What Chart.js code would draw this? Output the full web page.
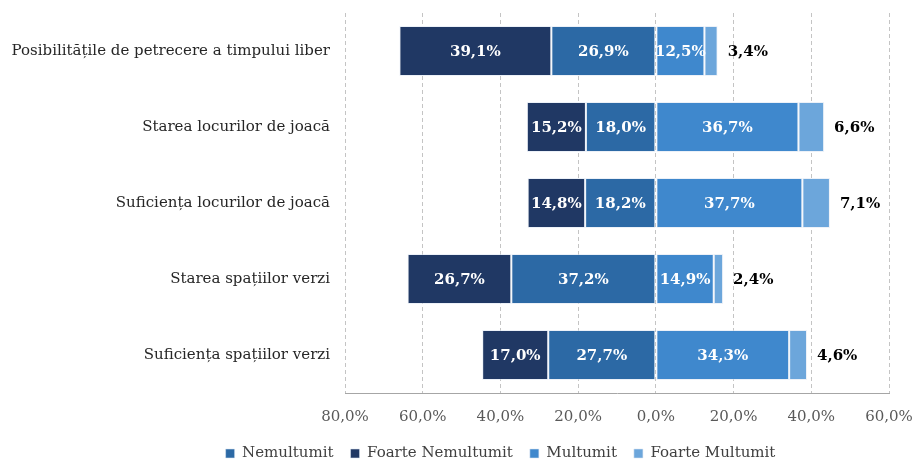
<!DOCTYPE html>
<html>
<head>
<meta charset="utf-8">
<script src="https://cdn.jsdelivr.net/npm/chart.js@4/dist/chart.umd.min.js"></script>
<style>
  html, body { margin: 0; padding: 0; background: #ffffff; }
  #wrap { width: 914px; height: 461px; position: relative; }
</style>
</head>
<body>
<div id="wrap"><canvas id="c" width="914" height="461"></canvas></div>
<script>
// Satisfaction survey: share of answers per aspect (percent)
const categories = [
  'Posibilitățile de petrecere a timpului liber',
  'Starea locurilor de joacă',
  'Suficiența locurilor de joacă',
  'Starea spațiilor verzi',
  'Suficiența spațiilor verzi'
];
const nemultumit        = [26.9, 18.0, 18.2, 37.2, 27.7];
const foarteNemultumit  = [39.1, 15.2, 14.8, 26.7, 17.0];
const multumit          = [12.5, 36.7, 37.7, 14.9, 34.3];
const foarteMultumit    = [3.4, 6.6, 7.1, 2.4, 4.6];
const xTicks = [-80, -60, -40, -20, 0, 20, 40, 60];

const FONT = "'DejaVu Serif', 'Liberation Serif', serif";
const fmt = v => Math.abs(v).toFixed(1).replace('.', ',') + '%';

// Value labels: white inside the segments, black beside the outer light segment
const valueLabels = {
  id: 'valueLabels',
  afterDatasetsDraw(chart) {
    const ctx = chart.ctx;
    ctx.save();
    ctx.font = "bold 15px " + FONT;
    ctx.textBaseline = 'middle';
    chart.data.datasets.forEach((ds, i) => {
      const meta = chart.getDatasetMeta(i);
      if (meta.hidden) return;
      meta.data.forEach((bar, j) => {
        const v = ds.data[j];
        if (ds.labelOutside) {
          ctx.fillStyle = '#000000';
          ctx.textAlign = 'left';
          ctx.fillText(fmt(v), Math.max(bar.x, bar.base) + 10, bar.y + 1);
        } else {
          ctx.fillStyle = '#ffffff';
          ctx.textAlign = 'center';
          ctx.fillText(fmt(v), (bar.x + bar.base) / 2, bar.y + 1);
        }
      });
    });
    ctx.restore();
  }
};

// Nudge the legend row so it sits under the bars rather than the full width
const legendShift = {
  id: 'legendShift',
  afterLayout(chart) {
    const lg = chart.legend;
    if (!lg) return;
    const dx = 56, dy = -12;
    lg.left += dx; lg.right += dx;
    lg.top += dy; lg.bottom += dy;
  }
};

const neg = arr => arr.map(v => -v);
const barStyle = { borderWidth: 1, borderColor: 'rgba(220,230,242,0.55)', borderSkipped: false };

new Chart(document.getElementById('c'), {
  type: 'bar',
  data: {
    labels: categories,
    datasets: [
      Object.assign({ label: 'Nemultumit', data: neg(nemultumit), backgroundColor: '#2C69A5' }, barStyle),
      Object.assign({ label: 'Foarte Nemultumit', data: neg(foarteNemultumit), backgroundColor: '#203864' }, barStyle),
      Object.assign({ label: 'Multumit', data: multumit, backgroundColor: '#3F88CD' }, barStyle),
      Object.assign({ label: 'Foarte Multumit', data: foarteMultumit, backgroundColor: '#6CA6DB', labelOutside: true }, barStyle)
    ]
  },
  options: {
    indexAxis: 'y',
    responsive: false,
    animation: false,
    devicePixelRatio: 1,
    layout: { padding: { top: 13, left: 0, right: 25, bottom: -22 } },
    datasets: { bar: { categoryPercentage: 1, barPercentage: 0.66 } },
    scales: {
      x: {
        stacked: true,
        min: -80, max: 60,
        afterBuildTicks: s => { s.ticks = xTicks.map(v => ({ value: v })); },
        afterFit: s => { s.paddingRight = 0; },
        ticks: {
          callback: v => fmt(v),
          font: { family: FONT, size: 15 },
          color: '#595959',
          padding: 15
        },
        grid: {
          color: '#c4c4c4',
          lineWidth: 1,
          drawTicks: true,
          tickLength: 0
        },
        border: { display: true, color: '#a6a6a6', dash: [4, 3], width: 1 }
      },
      y: {
        stacked: true,
        afterFit: s => { s.width = 345; s.paddingTop = 0; s.paddingBottom = 0; },
        ticks: {
          font: { family: FONT, size: 15 },
          color: '#262626',
          padding: 15
        },
        grid: { display: false, drawTicks: false },
        border: { display: false }
      }
    },
    plugins: {
      legend: {
        position: 'bottom',
        labels: {
          font: { family: FONT, size: 15 },
          color: '#404040',
          boxWidth: 9,
          boxHeight: 9,
          padding: 17
        }
      },
      tooltip: { enabled: false }
    }
  },
  plugins: [valueLabels, legendShift]
});
</script>
</body>
</html>
